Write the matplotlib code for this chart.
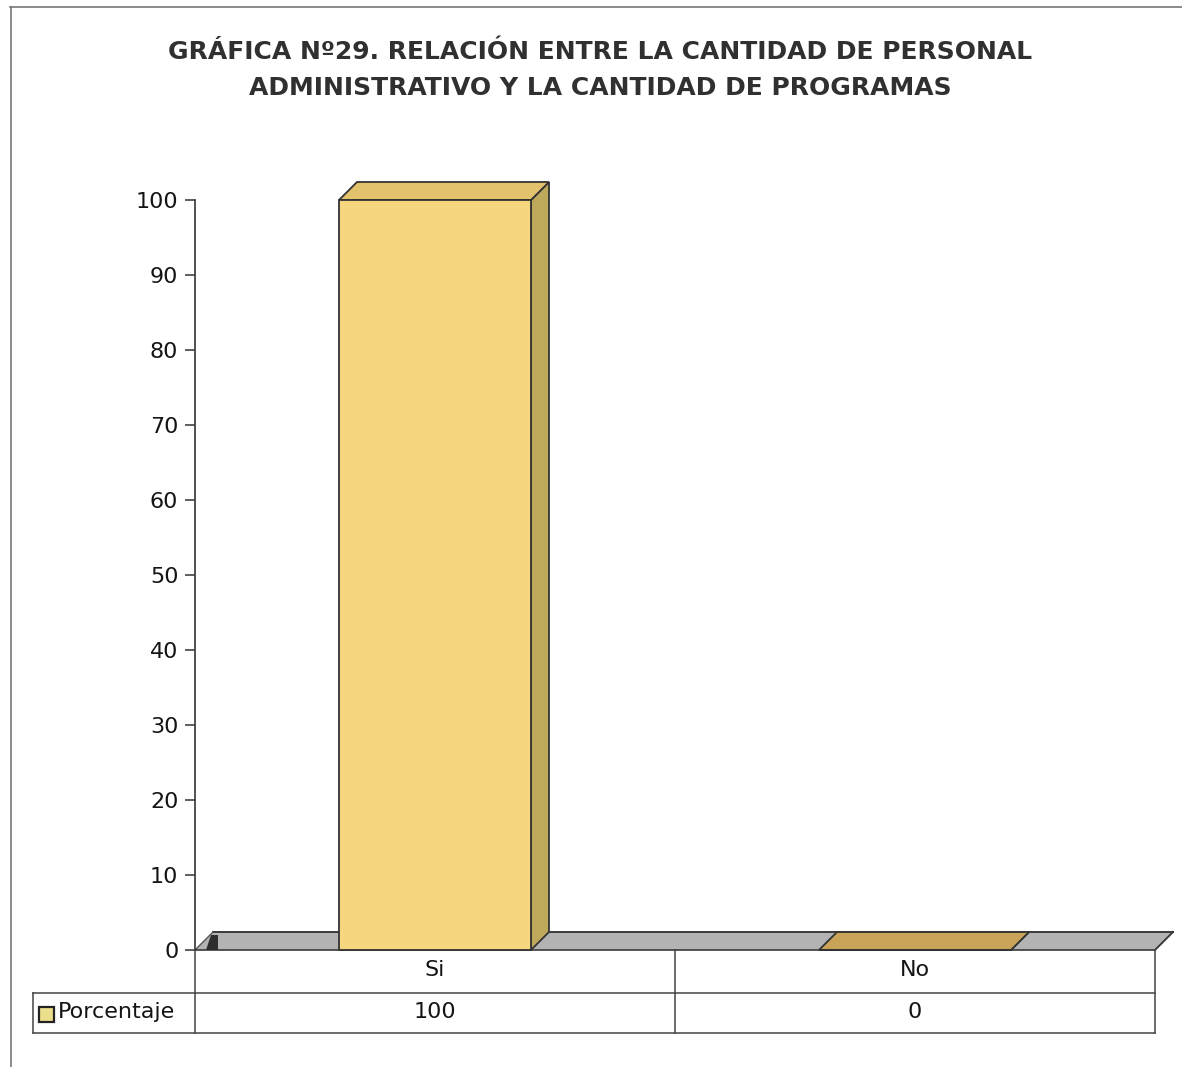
import matplotlib
matplotlib.use("Agg")
import matplotlib.pyplot as plt
from matplotlib.patches import Polygon, Rectangle

# ---- data ----
categories = ["Si", "No"]
values = [100, 0]
series_name = "Porcentaje"
yticks = [0, 10, 20, 30, 40, 50, 60, 70, 80, 90, 100]
title_lines = ["GRÁFICA Nº29. RELACIÓN ENTRE LA CANTIDAD DE PERSONAL",
               "ADMINISTRATIVO Y LA CANTIDAD DE PROGRAMAS"]

# ---- layout (pixels) ----
W, H = 1182, 1067
plt.rcParams['font.family'] = ['DejaVu Sans']
fig = plt.figure(figsize=(W / 100, H / 100), dpi=100)
fig.patch.set_facecolor("white")

PL, PR, PB, PT = 195, 1155, 950, 200   # plot area in pixels (PT = y of 100)
depth = 18                              # 3-D depth in pixels
TB1, TB2 = 993, 1033                    # table row bottoms
TL = 33                                 # table left
FS = 16
TXT = "#141414"

def fx(px):
    return px / W

def fy(py):
    return 1 - py / H

ax = fig.add_axes([fx(PL), fy(PB), (PR - PL) / W, (PB - PT) / H])
n = len(categories)
ax.set_xlim(0, n)
ax.set_ylim(0, 100)
ax.patch.set_visible(False)
for s in ["top", "right", "bottom"]:
    ax.spines[s].set_visible(False)
ax.spines["left"].set_color("#333333")
ax.spines["left"].set_linewidth(1.2)
ax.set_xticks([])
ax.set_yticks(yticks)
ax.tick_params(axis="y", direction="out", length=7, width=1.1, color="#333333",
               labelsize=FS, labelcolor=TXT, pad=5)

dx = depth / ((PR - PL) / n)
dy = depth / ((PB - PT) / 100)

# floor
floor = Polygon([(0, 0), (n, 0), (n + dx, dy), (dx, dy)], closed=True,
                facecolor="#b3b3b3", edgecolor="none", clip_on=False, zorder=1)
ax.add_patch(floor)
ax.plot([dx, n + dx], [dy, dy], color="#3a3a3a", lw=1.4, clip_on=False, zorder=2)
ax.plot([n, n + dx], [0, dy], color="#3a3a3a", lw=1.4, clip_on=False, zorder=2)
ax.plot([0, dx], [0, dy], color="#555555", lw=1.0, clip_on=False, zorder=2)
ax.plot([0, n], [0, 0], color="#3a3a3a", lw=1.2, clip_on=False, zorder=2)
# small dark wall corner piece
ax.add_patch(Polygon([(dx * 0.6, 0), (dx * 1.3, 0), (dx * 1.3, dy * 0.85), (dx * 0.9, dy * 0.85)],
                     closed=True, facecolor="#2e2e2e", edgecolor="none", clip_on=False, zorder=2))

bw = 0.4
for i, v in enumerate(values):
    x0 = i + 0.5 - bw / 2
    x1 = x0 + bw
    side = Polygon([(x1, 0), (x1 + dx, dy), (x1 + dx, v + dy), (x1, v)], closed=True,
                   facecolor="#bda85c", edgecolor="#333333", lw=1.3, clip_on=False, zorder=3)
    top = Polygon([(x0, v), (x1, v), (x1 + dx, v + dy), (x0 + dx, v + dy)], closed=True,
                  facecolor="#e2c26c" if v > 0 else "#c9a458", edgecolor="#333333", lw=1.3,
                  clip_on=False, zorder=3)
    front = Rectangle((x0, 0), bw, v, facecolor="#f6d77f", edgecolor="#333333", lw=1.3,
                      clip_on=False, zorder=4)
    ax.add_patch(side)
    ax.add_patch(top)
    ax.add_patch(front)

# ---- overlay for table, frame, title ----
ov = fig.add_axes([0, 0, 1, 1])
ov.set_xlim(0, W)
ov.set_ylim(H, 0)
ov.axis("off")
ov.patch.set_visible(False)

lc = "#444444"
# frame
ov.plot([10, W], [7, 7], color="#777777", lw=1.2)
ov.plot([11, 11], [7, H], color="#777777", lw=1.2)

# table grid
colw = (PR - PL) / n
for k in range(n + 1):
    xk = PL + k * colw
    ov.plot([xk, xk], [PB, TB2], color=lc, lw=1.1)
ov.plot([TL, TL], [TB1, TB2], color=lc, lw=1.1)
ov.plot([TL, PR], [TB1, TB1], color=lc, lw=1.1)
ov.plot([TL, PR], [TB2, TB2], color=lc, lw=1.1)

for i, (c, v) in enumerate(zip(categories, values)):
    cx = PL + (i + 0.5) * colw
    ov.text(cx, (PB + TB1) / 2 - 2, c, ha="center", va="center", fontsize=FS, color=TXT)
    ov.text(cx, (TB1 + TB2) / 2 - 1, f"{v:g}", ha="center", va="center", fontsize=FS, color=TXT)

ov.add_patch(Rectangle((39, 1007), 15, 15, facecolor="#ecdf8c", edgecolor="#222222", lw=1.6))
ov.text(58, (TB1 + TB2) / 2 - 1, series_name, ha="left", va="center", fontsize=FS, color=TXT)

ov.text(600, 52, title_lines[0], ha="center", va="center", fontsize=18,
        fontweight="bold", color="#303030")
ov.text(600, 88, title_lines[1], ha="center", va="center", fontsize=18,
        fontweight="bold", color="#303030")

fig.savefig("out.png", dpi=100)
